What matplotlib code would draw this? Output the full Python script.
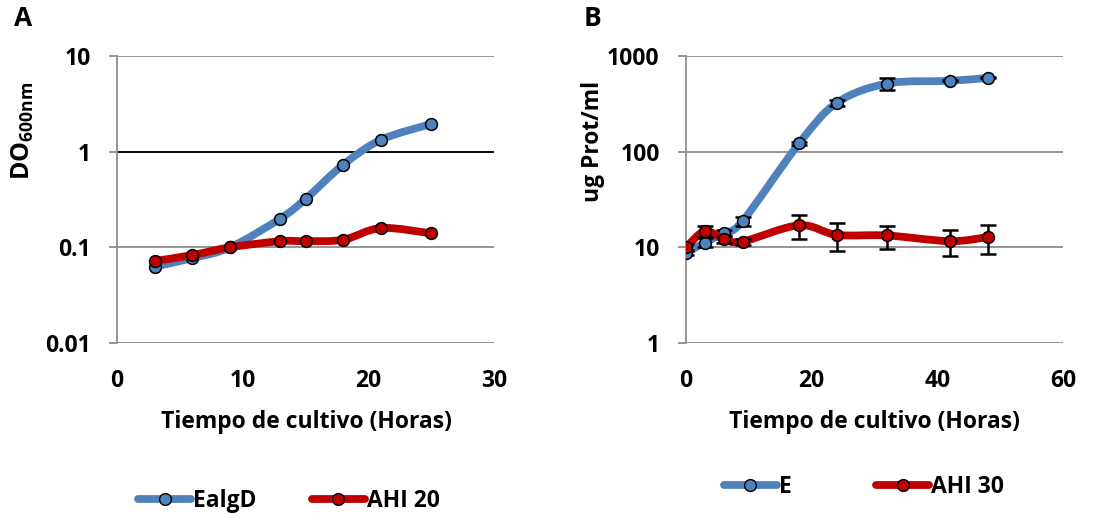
import numpy as np
import matplotlib
matplotlib.use("Agg")
import matplotlib.pyplot as plt
from matplotlib.path import Path
from matplotlib.patches import PathPatch
from matplotlib.lines import Line2D

FONT = 'Open Sans'
plt.rcParams['font.family'] = [FONT, 'DejaVu Sans']
plt.rcParams['font.weight'] = 'bold'
plt.rcParams['mathtext.fontset'] = 'custom'
plt.rcParams['mathtext.rm'] = FONT + ':bold'
plt.rcParams['mathtext.bf'] = FONT + ':bold'

# Panel A data
a_x = [3, 6, 9, 13, 15, 18, 21, 25]
a_ealgd = [0.063, 0.077, 0.10, 0.20, 0.32, 0.73, 1.33, 1.95]
a_ahl20 = [0.072, 0.083, 0.10, 0.116, 0.116, 0.12, 0.159, 0.14]

# Panel B data
b_x = [0, 3, 6, 9, 18, 24, 32, 42, 48]
b_e = [8.8, 11.2, 14.2, 18.8, 122, 324, 515, 550, 590]
b_e_err = [0.5, 1.2, 1.0, 2.0, 5, 22, 75, 8, 8]
b_ahi30 = [10.0, 14.8, 12.2, 11.5, 17.0, 13.5, 13.3, 11.6, 12.8]
b_ahi30_err = [0.8, 2.0, 1.0, 0.8, 4.8, 4.4, 3.6, 3.5, 4.3]

BLUE = '#4F81BD'
RED = '#C00000'
LW = 5.6
MS = 8.5
TFS = 16.5   # tick labels
LFS = 16.5   # axis titles / legend


def smooth_path(x, y):
    """Excel-style smoothed line: cubic Bezier through points, built in (x, log y)."""
    x = np.asarray(x, float)
    ly = np.log10(np.asarray(y, float))
    n = len(x)
    verts = [(x[0], ly[0])]
    codes = [Path.MOVETO]
    for i in range(n - 1):
        p0 = np.array([x[max(i - 1, 0)], ly[max(i - 1, 0)]])
        p1 = np.array([x[i], ly[i]])
        p2 = np.array([x[i + 1], ly[i + 1]])
        p3 = np.array([x[min(i + 2, n - 1)], ly[min(i + 2, n - 1)]])
        c1 = p1 + (p2 - p0) / 6.0
        c2 = p2 - (p3 - p1) / 6.0
        verts += [tuple(c1), tuple(c2), tuple(p2)]
        codes += [Path.CURVE4] * 3
    verts = [(vx, 10 ** vy) for vx, vy in verts]
    return Path(verts, codes)


def draw_series(ax, x, y, color, err=None, z=2):
    ax.add_patch(PathPatch(smooth_path(x, y), fill=False, edgecolor=color,
                           lw=LW, capstyle='round', joinstyle='round', zorder=z))
    if err is not None:
        ax.errorbar(x, y, yerr=err, fmt='none', ecolor='black', elinewidth=1.8,
                    capsize=6, capthick=1.8, zorder=z + 0.5)
    ax.plot(x, y, ls='none', marker='o', ms=MS, mfc=color, mec='black',
            mew=1.1, zorder=z + 1)


fig = plt.figure(figsize=(11.07, 5.18), dpi=100)
W, H = 1107, 518


def make_axes(left, right, top, bottom):
    return fig.add_axes([left / W, 1 - bottom / H, (right - left) / W, (bottom - top) / H])


def style(ax, xlim, xticks, ylim, yticks, ylabels):
    ax.set_yscale('log')
    ax.set_xlim(*xlim)
    ax.set_ylim(*ylim)
    ax.set_xticks(xticks)
    ax.set_xticklabels([str(t) for t in xticks])
    ax.set_yticks(yticks)
    ax.set_yticklabels(ylabels)
    ax.yaxis.set_minor_locator(matplotlib.ticker.NullLocator())
    for s in ['top', 'right', 'bottom']:
        ax.spines[s].set_visible(False)
    ax.spines['left'].set_color('#8C8C8C')
    ax.spines['left'].set_linewidth(1.3)
    ax.tick_params(axis='y', length=6, width=1.3, color='#8C8C8C', labelsize=TFS, pad=13)
    ax.tick_params(axis='x', length=0, labelsize=TFS, pad=19)
    ax.grid(axis='y', color='#8C8C8C', lw=1.3)
    ax.set_axisbelow(True)
    for lab in ax.get_xticklabels() + ax.get_yticklabels():
        lab.set_fontweight('bold')


handles = [Line2D([], [], color=BLUE, lw=LW, solid_capstyle='round', marker='o', ms=MS,
                  mfc=BLUE, mec='black'),
           Line2D([], [], color=RED, lw=LW, solid_capstyle='round', marker='o', ms=MS,
                  mfc=RED, mec='black')]

# Panel A
axA = make_axes(117, 494, 56, 343)
style(axA, (0, 30), [0, 10, 20, 30], (0.01, 10), [0.01, 0.1, 1, 10], ['0.01', '0.1', '1', '10'])
axA.axhline(1, color='black', lw=1.3, zorder=1.5)
draw_series(axA, a_x, a_ealgd, BLUE, z=2)
draw_series(axA, a_x, a_ahl20, RED, z=4)
axA.set_xlabel('Tiempo de cultivo (Horas)', fontsize=LFS, fontweight='bold')
axA.xaxis.set_label_coords(0.503, -0.275)
axA.xaxis.label.set_va('center')
axA.set_ylabel(r'$\mathbf{DO_{600nm}}$', fontsize=18)
axA.yaxis.set_label_coords(-0.249, 0.739)
axA.yaxis.label.set_va('center')
fig.text(23 / W, 1 - 18 / H, 'A', fontsize=19, fontweight='bold', va='center', ha='center')

fig.legend(handles, ['EalgD', 'AHI 20'], loc='center', bbox_to_anchor=(289 / W, 1 - 501 / H),
           ncol=2, frameon=False, prop={'weight': 'bold', 'size': LFS},
           handlelength=2.3, handletextpad=0.1, columnspacing=2.4)

# Panel B
axB = make_axes(686, 1063, 56, 343)
style(axB, (0, 60), [0, 20, 40, 60], (1, 1000), [1, 10, 100, 1000], ['1', '10', '100', '1000'])
draw_series(axB, b_x, b_e, BLUE, err=b_e_err, z=2)
draw_series(axB, b_x, b_ahi30, RED, err=b_ahi30_err, z=4)
axB.set_xlabel('Tiempo de cultivo (Horas)', fontsize=LFS, fontweight='bold')
axB.xaxis.set_label_coords(0.5, -0.275)
axB.xaxis.label.set_va('center')
axB.set_ylabel('ug Prot/ml', fontsize=LFS, fontweight='bold')
axB.yaxis.set_label_coords(-0.247, 0.704)
axB.yaxis.label.set_va('center')
fig.text(592 / W, 1 - 18 / H, 'B', fontsize=19, fontweight='bold', va='center', ha='center')

fig.legend(handles, ['E', 'AHI 30'], loc='center', bbox_to_anchor=(864 / W, 1 - 487 / H),
           ncol=2, frameon=False, prop={'weight': 'bold', 'size': LFS},
           handlelength=2.3, handletextpad=0.1, columnspacing=3.7)

fig.savefig('out.png', dpi=100)
